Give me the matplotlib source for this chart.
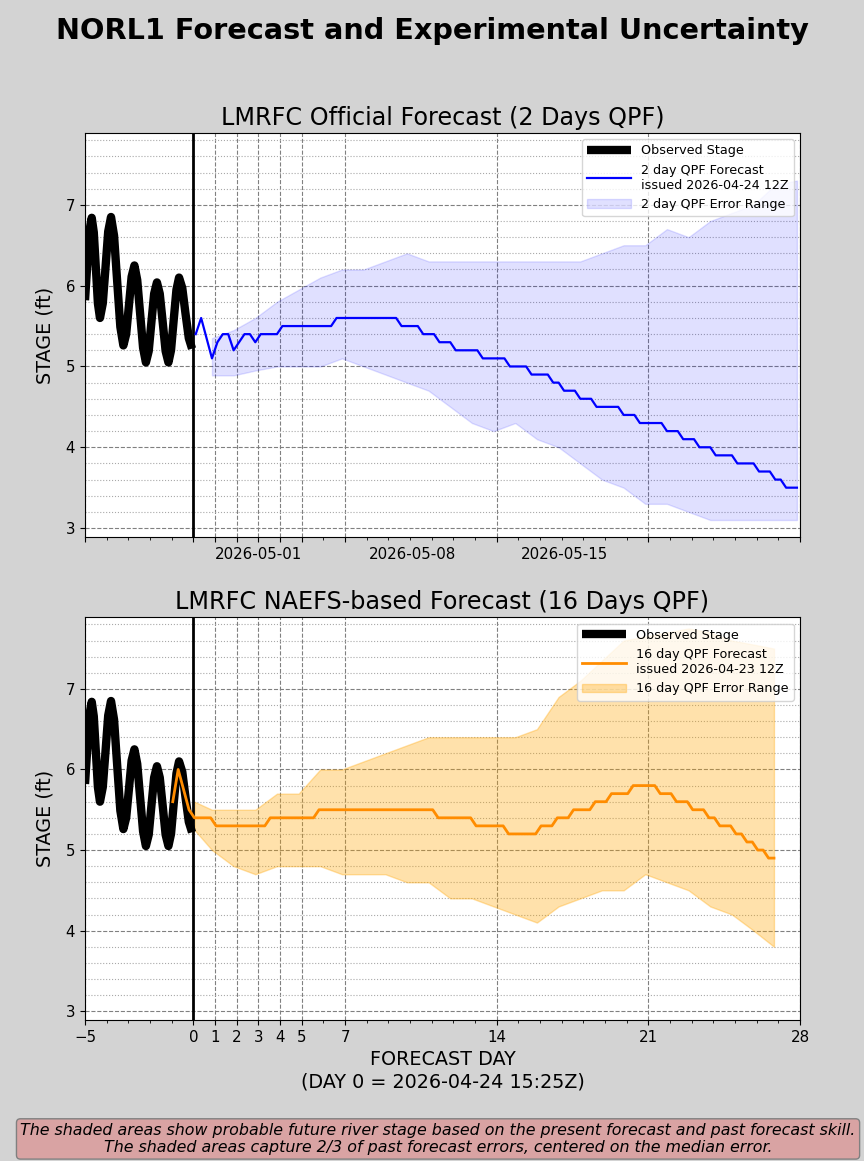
import numpy as np
import matplotlib.pyplot as plt
from matplotlib.ticker import MultipleLocator

# observed stage (days relative to day 0)
obs_day = [-5.00, -4.85, -4.77, -4.69, -4.595, -4.50, -4.405, -4.31, -4.18, -4.055,
           -3.93, -3.80, -3.66, -3.515, -3.37, -3.23, -3.10, -2.975, -2.85, -2.72,
           -2.59, -2.455, -2.32, -2.19, -2.06, -1.935, -1.81, -1.68, -1.55, -1.415,
           -1.28, -1.15, -1.03, -0.905, -0.78, -0.66, -0.51, -0.36, -0.21, -0.06]
obs_stage = [5.82, 6.45, 6.72, 6.84, 6.66, 6.22, 5.78, 5.60, 5.78, 6.22,
             6.67, 6.85, 6.62, 6.05, 5.49, 5.26, 5.40, 5.75, 6.11, 6.25,
             6.07, 5.65, 5.23, 5.05, 5.19, 5.55, 5.90, 6.04, 5.90, 5.55,
             5.19, 5.05, 5.20, 5.58, 5.95, 6.10, 5.97, 5.65, 5.35, 5.22]

# 2 day QPF forecast, 6-hourly from day 0.11
fc2_start = 0.11
fc2_stage = [5.4, 5.6, 5.35, 5.1, 5.3, 5.4, 5.4, 5.2, 5.3, 5.4,
             5.4, 5.3, 5.4, 5.4, 5.4, 5.4, 5.5, 5.5, 5.5, 5.5,
             5.5, 5.5, 5.5, 5.5, 5.5, 5.5, 5.6, 5.6, 5.6, 5.6,
             5.6, 5.6, 5.6, 5.6, 5.6, 5.6, 5.6, 5.6, 5.5, 5.5,
             5.5, 5.5, 5.4, 5.4, 5.4, 5.3, 5.3, 5.3, 5.2, 5.2,
             5.2, 5.2, 5.2, 5.1, 5.1, 5.1, 5.1, 5.1, 5.0, 5.0,
             5.0, 5.0, 4.9, 4.9, 4.9, 4.9, 4.8, 4.8, 4.7, 4.7,
             4.7, 4.6, 4.6, 4.6, 4.5, 4.5, 4.5, 4.5, 4.5, 4.4,
             4.4, 4.4, 4.3, 4.3, 4.3, 4.3, 4.3, 4.2, 4.2, 4.2,
             4.1, 4.1, 4.1, 4.0, 4.0, 4.0, 3.9, 3.9, 3.9, 3.9,
             3.8, 3.8, 3.8, 3.8, 3.7, 3.7, 3.7, 3.6, 3.6, 3.5,
             3.5, 3.5]

# 2 day QPF error range, daily from day 0.86
band2_start = 0.86
band2_hi = [5.35, 5.45, 5.6, 5.8, 5.95, 6.1, 6.2, 6.2, 6.3, 6.4,
            6.3, 6.3, 6.3, 6.3, 6.3, 6.3, 6.3, 6.3, 6.4, 6.5,
            6.5, 6.7, 6.6, 6.8, 6.9, 7.0, 7.25, 7.3]
band2_lo = [4.89, 4.89, 4.95, 5.0, 5.0, 5.0, 5.1, 5.0, 4.9, 4.8,
            4.7, 4.5, 4.3, 4.2, 4.3, 4.1, 4.0, 3.8, 3.6, 3.5,
            3.3, 3.3, 3.2, 3.1, 3.1, 3.1, 3.1, 3.1]

# 16 day QPF forecast, 6-hourly from day -0.95
fc16_start = -0.95
fc16_stage = [5.6, 6.0, 5.75, 5.5, 5.4, 5.4, 5.4, 5.4, 5.3, 5.3,
              5.3, 5.3, 5.3, 5.3, 5.3, 5.3, 5.3, 5.3, 5.4, 5.4,
              5.4, 5.4, 5.4, 5.4, 5.4, 5.4, 5.4, 5.5, 5.5, 5.5,
              5.5, 5.5, 5.5, 5.5, 5.5, 5.5, 5.5, 5.5, 5.5, 5.5,
              5.5, 5.5, 5.5, 5.5, 5.5, 5.5, 5.5, 5.5, 5.5, 5.4,
              5.4, 5.4, 5.4, 5.4, 5.4, 5.4, 5.3, 5.3, 5.3, 5.3,
              5.3, 5.3, 5.2, 5.2, 5.2, 5.2, 5.2, 5.2, 5.3, 5.3,
              5.3, 5.4, 5.4, 5.4, 5.5, 5.5, 5.5, 5.5, 5.6, 5.6,
              5.6, 5.7, 5.7, 5.7, 5.7, 5.8, 5.8, 5.8, 5.8, 5.8,
              5.7, 5.7, 5.7, 5.6, 5.6, 5.6, 5.5, 5.5, 5.5, 5.4,
              5.4, 5.3, 5.3, 5.3, 5.2, 5.2, 5.1, 5.1, 5.0, 5.0,
              4.9, 4.9]

# 16 day QPF error range
band16_day = [0.05, 0.86, 1.86, 2.86, 3.86, 4.86, 5.86, 6.86, 7.86, 8.86,
              9.86, 10.86, 11.86, 12.86, 13.86, 14.86, 15.86, 16.86, 17.86, 18.86,
              19.86, 20.86, 21.86, 22.86, 23.86, 24.86, 25.86, 26.80]
band16_hi = [5.6, 5.5, 5.5, 5.5, 5.7, 5.7, 6.0, 6.0, 6.1, 6.2,
             6.3, 6.4, 6.4, 6.4, 6.4, 6.4, 6.5, 6.9, 7.1, 7.35,
             7.6, 7.65, 7.7, 7.75, 7.7, 7.6, 7.55, 7.5]
band16_lo = [5.25, 5.0, 4.8, 4.7, 4.8, 4.8, 4.8, 4.7, 4.7, 4.7,
             4.6, 4.6, 4.4, 4.4, 4.3, 4.2, 4.1, 4.3, 4.4, 4.5,
             4.5, 4.7, 4.6, 4.5, 4.3, 4.2, 4.0, 3.8]

day_ticks = [-5, 0, 1, 2, 3, 4, 5, 7, 14, 21, 28]
date_pos = [3.02, 10.12, 17.12]
date_labels = ['2026-05-01', '2026-05-08', '2026-05-15']

fc2_day = fc2_start + 0.25 * np.arange(len(fc2_stage))
fc16_day = fc16_start + 0.25 * np.arange(len(fc16_stage))
band2_day = band2_start + np.arange(len(band2_hi))

fig = plt.figure(figsize=(8.64, 11.61), dpi=100, facecolor='lightgray')
ax1 = fig.add_axes([0.0984, 0.5375, 0.8275, 0.348])
ax2 = fig.add_axes([0.0984, 0.1214, 0.8275, 0.347])


def style_axes(ax, title):
    ax.set_xlim(-5, 28)
    ax.set_ylim(2.89, 7.89)
    ax.set_xticks(day_ticks)
    ax.xaxis.set_minor_locator(MultipleLocator(1))
    ax.set_yticks([3, 4, 5, 6, 7])
    ax.yaxis.set_minor_locator(MultipleLocator(0.2))
    ax.tick_params(axis='y', which='minor', length=0)
    ax.tick_params(labelsize=10.8)
    ax.grid(which='major', linestyle='--', color='gray', linewidth=0.8)
    ax.grid(which='minor', axis='y', linestyle=':', color='darkgray', linewidth=0.8)
    ax.set_axisbelow(True)
    ax.axvline(0, color='black', linewidth=2)
    ax.set_ylabel('STAGE (ft)', fontsize=13.8, labelpad=8)
    ax.set_title(title, fontsize=17.2)


# top panel: official forecast
style_axes(ax1, 'LMRFC Official Forecast (2 Days QPF)')
ax1.plot(obs_day, obs_stage, color='black', linewidth=6, solid_capstyle='butt',
         solid_joinstyle='round', label='Observed Stage')
ax1.plot(fc2_day, fc2_stage, color='blue', linewidth=1.6,
         label='2 day QPF Forecast\nissued 2026-04-24 12Z')
ax1.fill_between(band2_day, band2_lo, band2_hi, color='blue', alpha=0.12,
                 label='2 day QPF Error Range')
ax1.set_xticklabels([])
sec = ax1.secondary_xaxis('bottom')
sec.set_xticks(date_pos, labels=date_labels)
sec.tick_params(length=0, pad=7, labelsize=10.8)
sec.spines['bottom'].set_visible(False)
ax1.legend(loc='upper right', fontsize=9.2, handlelength=3.4)

# bottom panel: NAEFS forecast
style_axes(ax2, 'LMRFC NAEFS-based Forecast (16 Days QPF)')
ax2.plot(obs_day, obs_stage, color='black', linewidth=6, solid_capstyle='butt',
         solid_joinstyle='round', label='Observed Stage')
ax2.plot(fc16_day, fc16_stage, color='darkorange', linewidth=2,
         label='16 day QPF Forecast\nissued 2026-04-23 12Z')
ax2.fill_between(band16_day, band16_lo, band16_hi, color='orange', alpha=0.33,
                 label='16 day QPF Error Range')
ax2.set_xticklabels([str(d).replace('-', '\u2212') for d in day_ticks])
ax2.set_xlabel('FORECAST DAY\n(DAY 0 = 2026-04-24 15:25Z)', fontsize=13.8)
ax2.legend(loc='upper right', fontsize=9.2, handlelength=3.4)

fig.suptitle('NORL1 Forecast and Experimental Uncertainty', fontsize=20.7,
             fontweight='bold', y=0.985)

fig.text(0.507, 0.019,
         'The shaded areas show probable future river stage based on the present forecast and past forecast skill.\n'
         'The shaded areas capture 2/3 of past forecast errors, centered on the median error.',
         ha='center', va='center', fontsize=11.4, style='italic',
         bbox=dict(boxstyle='round,pad=0.25', facecolor='#d9a3a3', edgecolor='gray'))

fig.savefig('out.png', dpi=100, facecolor=fig.get_facecolor())
